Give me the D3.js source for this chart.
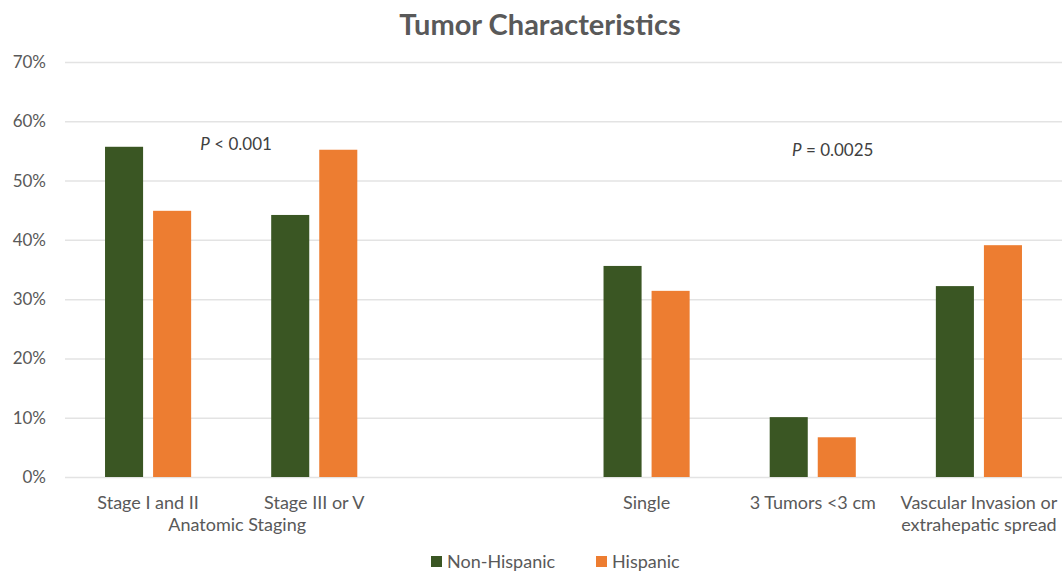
<!DOCTYPE html>
<html><head><meta charset="utf-8">
<script src="https://cdn.jsdelivr.net/npm/d3@7"></script>
<style>
html,body{margin:0;padding:0;background:#fff;}
svg{display:block;font-family:Lato,"Open Sans",sans-serif;}
</style></head>
<body><svg id="c" width="1062" height="573"></svg>
<script>
const categories = ["Stage I and II", "Stage III or V", "", "Single", "3 Tumors <3 cm", "Vascular Invasion or\nextrahepatic spread"];
const seriesNames = ["Non-Hispanic", "Hispanic"];
const nonHispanic = [55.7, 44.2, null, 35.6, 10.1, 32.2];
const hispanic = [44.9, 55.2, null, 31.4, 6.7, 39.1];
const yTicks = [0, 10, 20, 30, 40, 50, 60, 70];
const groupLabels = [{text: "Anatomic Staging", from: 0, to: 1}];
const pLabels = [{cat: 0, to: 1, y: 55.1, dx: 5, p: "P", rest: " < 0.001"}, {cat: 3, to: 5, y: 54.1, dx: 20, p: "P", rest: " = 0.0025"}];
const colors = ["#3a5623", "#ed7d31"];

const svg = d3.select("#c");
const m = {left: 65, right: 1062, top: 62, bottom: 477};
const x0 = d3.scaleBand().domain(d3.range(categories.length)).range([m.left, m.right]).padding(0);
const x1 = d3.scaleBand().domain([0, 1]).range([0, x0.bandwidth()]).paddingInner(0.208).paddingOuter(0.833);
const y = d3.scaleLinear().domain([0, 70]).range([m.bottom, m.top]);

svg.append("text").attr("x", 540).attr("y", 35).attr("text-anchor", "middle")
  .attr("font-size", 29).attr("font-weight", 700).attr("fill", "#595959").text("Tumor Characteristics");

// gridlines
svg.append("g").selectAll("line").data(yTicks).join("line")
  .attr("x1", m.left).attr("x2", m.right).attr("y1", d => y(d) + 0.5).attr("y2", d => y(d) + 0.5)
  .attr("stroke", "#e3e3e3").attr("stroke-width", 1.5);

// y axis labels
const yAxis = d3.axisLeft(y).tickValues(yTicks).tickFormat(d => d + "%").tickSize(0).tickPadding(0);
const ga = svg.append("g").attr("transform", `translate(46,0)`).call(yAxis);
ga.select(".domain").remove();
ga.selectAll("text").attr("font-size", 17).attr("fill", "#595959").attr("font-family", "Lato,'Open Sans',sans-serif");

// bars
const rows = categories.map((c, i) => ({i, vals: [nonHispanic[i], hispanic[i]]}));
const g = svg.append("g").selectAll("g").data(rows).join("g")
  .attr("transform", d => `translate(${x0(d.i)},0)`);
g.selectAll("rect").data(d => d.vals.map((v, k) => ({v, k})).filter(e => e.v != null)).join("rect")
  .attr("x", e => x1(e.k)).attr("width", x1.bandwidth())
  .attr("y", e => y(e.v)).attr("height", e => y(0) - y(e.v))
  .attr("fill", e => colors[e.k]);

// category labels
const cl = svg.append("g").selectAll("text").data(categories.map((c, i) => ({c, i}))).join("text")
  .attr("x", d => x0(d.i) + x0.bandwidth() / 2).attr("y", 509)
  .attr("text-anchor", "middle").attr("font-size", 18).attr("fill", "#595959");
cl.each(function(d) {
  const lines = d.c.split("\n");
  d3.select(this).selectAll("tspan").data(lines).join("tspan")
    .attr("x", x0(d.i) + x0.bandwidth() / 2).attr("dy", (l, j) => j === 0 ? 0 : 22).text(l => l);
});

// group labels
svg.append("g").selectAll("text").data(groupLabels).join("text")
  .attr("x", d => (x0(d.from) + x0(d.to) + x0.bandwidth()) / 2 + 6).attr("y", 531)
  .attr("text-anchor", "middle").attr("font-size", 18).attr("fill", "#595959").text(d => d.text);

// p-value labels
const pl = svg.append("g").selectAll("text").data(pLabels).join("text")
  .attr("x", d => (x0(d.cat) + x0(d.to) + x0.bandwidth()) / 2 + d.dx).attr("y", d => y(d.y))
  .attr("text-anchor", "middle").attr("font-size", 17).attr("fill", "#404040");
pl.append("tspan").attr("font-style", "italic").text(d => d.p);
pl.append("tspan").text(d => d.rest);

// legend
const legX = [431, 596];
const lg = svg.append("g").selectAll("g").data(seriesNames).join("g")
  .attr("transform", (d, i) => `translate(${legX[i]},556)`);
lg.append("rect").attr("width", 11).attr("height", 11).attr("y", 0).attr("fill", (d, i) => colors[i]);
lg.append("text").attr("x", 16).attr("y", 12).attr("font-size", 18).attr("fill", "#595959").text(d => d);
</script></body></html>
